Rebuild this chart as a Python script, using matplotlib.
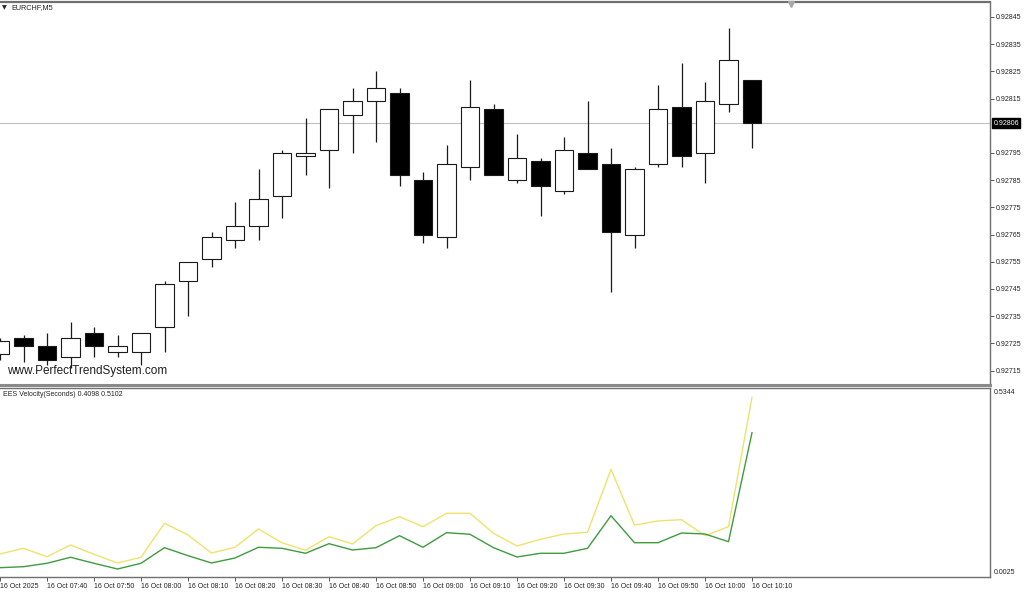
import matplotlib
matplotlib.use("Agg")
import matplotlib.pyplot as plt
import matplotlib.transforms as mtransforms

plt.rcParams['font.family'] = ['Liberation Sans', 'DejaVu Sans']

# ---------------- data ----------------
symbol_title = "EURCHF,M5"
indicator_title = "EES Velocity(Seconds) 0.4098 0.5102"
watermark = "www.PerfectTrendSystem.com"

opens = [0.92721, 0.92727, 0.92724, 0.92720, 0.92729, 0.92722, 0.92722, 0.92731,
         0.92748, 0.92756, 0.92763, 0.92768, 0.92779, 0.92794, 0.92796, 0.92809,
         0.92814, 0.92817, 0.92785, 0.92764, 0.92790, 0.92811, 0.92785, 0.92792,
         0.92781, 0.92795, 0.92791, 0.92765, 0.92791, 0.92812, 0.92795, 0.92813,
         0.92822]
highs = [0.92727, 0.92728, 0.92729, 0.92733, 0.92731, 0.92728, 0.92729, 0.92748,
         0.92755, 0.92766, 0.92777, 0.92789, 0.92796, 0.92808, 0.92811, 0.92819,
         0.92825, 0.92819, 0.92788, 0.92798, 0.92822, 0.92813, 0.92802, 0.92793,
         0.92801, 0.92814, 0.92797, 0.92790, 0.92820, 0.92828, 0.92821, 0.92841,
         0.92822]
lows = [0.92719, 0.92718, 0.92717, 0.92716, 0.92720, 0.92720, 0.92717, 0.92722,
        0.92735, 0.92753, 0.92760, 0.92763, 0.92771, 0.92787, 0.92782, 0.92795,
        0.92799, 0.92783, 0.92762, 0.92760, 0.92785, 0.92787, 0.92784, 0.92772,
        0.92780, 0.92789, 0.92744, 0.92760, 0.92790, 0.92790, 0.92784, 0.92810,
        0.92797]
closes = [0.92726, 0.92724, 0.92719, 0.92727, 0.92724, 0.92724, 0.92729, 0.92747,
          0.92755, 0.92764, 0.92768, 0.92778, 0.92795, 0.92795, 0.92811, 0.92814,
          0.92819, 0.92787, 0.92765, 0.92791, 0.92812, 0.92787, 0.92793, 0.92783,
          0.92796, 0.92789, 0.92766, 0.92789, 0.92811, 0.92794, 0.92814, 0.92829,
          0.92806]

current_price = 0.92806

velocity_yellow = [0.0658, 0.0819, 0.0581, 0.0913, 0.0649, 0.0403, 0.0564, 0.1529,
                   0.1197, 0.0686, 0.0848, 0.1367, 0.0978, 0.0763, 0.1149, 0.0942,
                   0.1461, 0.1716, 0.1432, 0.1812, 0.1812, 0.1245, 0.0885, 0.1075,
                   0.1225, 0.1273, 0.3060, 0.1480, 0.1594, 0.1631, 0.1177, 0.1432,
                   0.5102]
velocity_green = [0.0269, 0.0298, 0.0394, 0.0564, 0.0394, 0.0232, 0.0394, 0.0837,
                  0.0610, 0.0403, 0.0544, 0.0848, 0.0819, 0.0678, 0.0950, 0.0771,
                  0.0837, 0.1177, 0.0848, 0.1262, 0.1217, 0.0837, 0.0573, 0.0678,
                  0.0678, 0.0819, 0.1744, 0.0978, 0.0978, 0.1253, 0.1225, 0.1007,
                  0.4098]

# 0.92805 sits under the current-price label in the reference, so it is not labelled
price_ticks = [0.92715, 0.92725, 0.92735, 0.92745, 0.92755, 0.92765, 0.92775,
               0.92785, 0.92795, 0.92815, 0.92825, 0.92835, 0.92845]
ind_scale = [0.0025, 0.5344]

time_tick_pos = [0, 2, 4, 6, 8, 10, 12, 14, 16, 18, 20, 22, 24, 26, 28, 30, 32]
time_labels = ["16 Oct 2025", "16 Oct 07:40", "16 Oct 07:50", "16 Oct 08:00",
               "16 Oct 08:10", "16 Oct 08:20", "16 Oct 08:30", "16 Oct 08:40",
               "16 Oct 08:50", "16 Oct 09:00", "16 Oct 09:10", "16 Oct 09:20",
               "16 Oct 09:30", "16 Oct 09:40", "16 Oct 09:50", "16 Oct 10:00",
               "16 Oct 10:10"]

# ---------------- figure ----------------
W, H = 1024, 593
fig = plt.figure(figsize=(W / 100, H / 100), dpi=100)
fig.patch.set_facecolor('white')

def frac_rect(left, top, right, bottom):
    return [left / W, 1 - bottom / H, (right - left) / W, (bottom - top) / H]

ax = fig.add_axes(frac_rect(0, 2, 990, 385))
ax2 = fig.add_axes(frac_rect(0, 388, 990, 577))

slot_px = 23.5
xmax = 990 / slot_px
for a in (ax, ax2):
    a.set_xlim(0, xmax)
    a.set_facecolor('white')
    for s in a.spines.values():
        s.set_color('#707070')
        s.set_linewidth(1.0)
    a.spines['left'].set_visible(False)

ax.spines['bottom'].set_linewidth(2.2)
ax.spines['bottom'].set_color('#8a8a8a')
ax.spines['top'].set_linewidth(1.6)

# price scale
ax.set_ylim(0.927097, 0.928505)
ax.yaxis.tick_right()
ax.set_yticks(price_ticks)
ax.set_yticklabels([f"{t:.5f}" for t in price_ticks])
ax.tick_params(axis='y', right=True, left=False, length=3, width=0.7, color='#555555',
               labelsize=5, labelcolor='#222222', pad=1.5)
ax.tick_params(axis='x', bottom=False, labelbottom=False)

# current price line
ax.axhline(current_price, color='#c0c0c0', lw=0.8, zorder=0.5)

# candles
xs = list(range(len(opens)))
ax.vlines(xs, lows, highs, color='#1a1a1a', lw=0.9, zorder=1)
for i in xs:
    o, c = opens[i], closes[i]
    bull = c >= o
    ax.bar(i, abs(c - o), bottom=min(o, c), width=0.77,
           color='white' if bull else 'black', edgecolor='#1a1a1a',
           linewidth=0.8, zorder=2)

# current price label
trans_main = mtransforms.blended_transform_factory(ax.transAxes, ax.transData)
ax.text(1.0035, current_price, f"{current_price:.5f}", transform=trans_main,
        fontsize=5, color='white', va='center', ha='left', zorder=10, clip_on=False,
        bbox=dict(boxstyle='square,pad=0.18', fc='black', ec='black'))

# shift marker at top
ax.plot([791 / 990], [1.0 - 1.5 / 383], transform=ax.transAxes, marker='v',
        color='#a8a8a8', markersize=4.5, clip_on=False, zorder=10)

# titles
fig.text(2 / W, 1 - 8 / H, "\u25BC", fontsize=4.5, family='DejaVu Sans',
         color='#222222', va='center', ha='left')
fig.text(11 / W, 1 - 8 / H, symbol_title, fontsize=5.2, color='#222222',
         va='center', ha='left')
fig.text(7 / W, 1 - 371 / H, watermark, fontsize=8.5, color='#1e1e1e',
         va='center', ha='left')

# indicator panel
ax2.set_ylim(0.0005, 0.5367)
ax2.plot(xs, velocity_yellow, color='#ede36b', lw=1.0, zorder=3)
ax2.plot(xs, velocity_green, color='#3f9b3f', lw=1.0, zorder=4)
ax2.set_yticks([])
trans_ind = mtransforms.blended_transform_factory(ax2.transAxes, ax2.transData)
ax2.text(1.004, ind_scale[1], f"{ind_scale[1]:.4f}", transform=trans_ind,
         fontsize=5, color='#222222', va='top', ha='left', clip_on=False)
ax2.text(1.004, ind_scale[0], f"{ind_scale[0]:.4f}", transform=trans_ind,
         fontsize=5, color='#222222', va='bottom', ha='left', clip_on=False)
fig.text(3 / W, 1 - 394 / H, indicator_title, fontsize=5, color='#222222',
         va='center', ha='left')

ax2.set_xticks(time_tick_pos)
ax2.set_xticklabels(time_labels, ha='left')
ax2.tick_params(axis='x', length=3, width=0.7, color='#555555', labelsize=5,
                labelcolor='#222222', pad=1.5)

fig.savefig("out.png", dpi=100)
